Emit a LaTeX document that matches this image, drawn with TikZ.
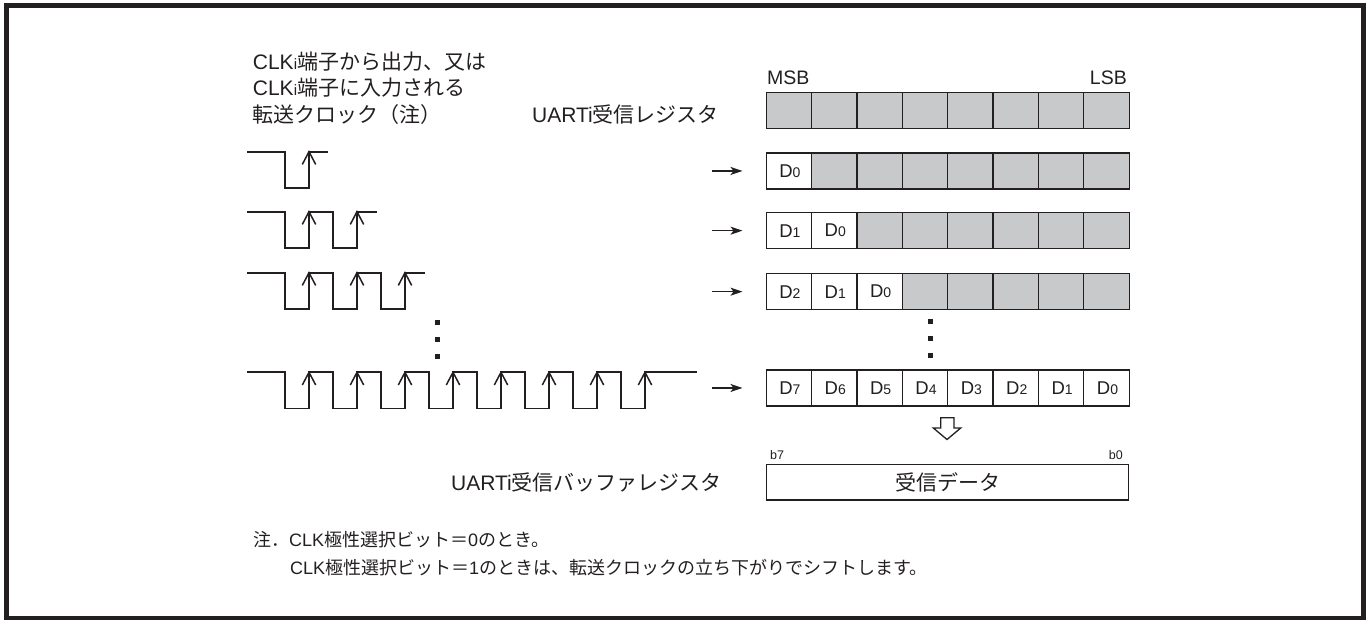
\documentclass[tikz,border=0pt]{standalone}
\usepackage{fontspec}
\setmainfont{Liberation Sans}
\newfontfamily\jp{Noto Sans CJK JP}
\usetikzlibrary{arrows.meta}
\definecolor{ink}{HTML}{231F20}
\definecolor{cellgray}{HTML}{C8C9CA}
\newcommand{\smdig}[1]{{\fontsize{14}{14}\selectfont #1}}
\newcommand{\smi}{{\fontsize{15}{15}\selectfont i}}
\begin{document}
\begin{tikzpicture}[x=1pt,y=-1pt,
  cell/.style={draw=ink, line width=1.3pt, minimum width=45.375pt, minimum height=36pt,
    inner sep=0pt, anchor=north west, font=\fontsize{18.5}{18.5}\selectfont, text=ink},
  wave/.style={draw=ink, line width=1.7pt},
  headv/.style={draw=ink, line width=1.5pt},
  arr/.style={draw=ink, line width=1.5pt, -{Stealth[length=12pt,width=8pt,inset=3pt]}},
  big/.style={inner sep=0pt, font=\fontsize{21}{25}\selectfont, text=ink},
  note/.style={inner sep=0pt, font=\fontsize{18}{22}\selectfont, text=ink},
  bitlbl/.style={inner sep=0pt, font=\fontsize{19.5}{22}\selectfont, text=ink},
  tiny/.style={inner sep=0pt, font=\fontsize{12.5}{14}\selectfont, text=ink},
  dotsq/.style={fill=ink, minimum size=5pt, inner sep=0pt}
]
\useasboundingbox (0,0) rectangle (1372,619);
\draw[line width=5pt, ink] (6.5,5.5) rectangle (1363.5,618);

% texts
\node[big, anchor=base west] (t1) at (252.7,69.5) {CLK\smi{\jp 端子から出力、又は}};
\node[big, anchor=base west] (t2) at (252.7,95.8) {CLK\smi{\jp 端子に入力される}};
\node[big, anchor=base west] (t3) at (252.7,122.8) {{\jp 転送クロック（注）}};
\node[big, anchor=base west] (reglbl) at (532,122.8) {UARTi{\jp 受信レジスタ}};
\node[bitlbl, anchor=base west] (msb) at (767,84) {MSB};
\node[bitlbl, anchor=base east] (lsb) at (1127,84) {LSB};

% registers
\foreach \r/\y/\n in {0/92/0,1/152.3/1,2/212/2,3/273/3,4/369.3/8}{
  \foreach \c in {1,...,8}{
    \pgfmathtruncatemacro\k{\n-\c}
    \ifnum\c>\n
      \node[cell, fill=cellgray] (r\r c\c) at ({765.5+(\c-1)*45.375},\y) {};
    \else
      \node[cell, fill=white] (r\r c\c) at ({765.5+(\c-1)*45.375},\y) {\hspace{2pt}\raisebox{-5pt}{D\smdig{\k}}};
    \fi
  }
}

% arrows to registers
\foreach \r in {1,2,3,4}{
  \coordinate (a\r) at (712, 0 |- r\r c1.west);
  \draw[arr, shorten >=23pt] (a\r) -- (r\r c1.west);
}

% waveforms
\foreach \yh/\n/\e in {151.7/1/328, 211.7/2/377, 272.7/3/425, 372.3/8/697}{
  \pgfmathsetmacro\yl{\yh+36.3}
  \draw[wave] (247,\yh)
    \foreach \i in {1,...,\n}{ -- ({285+48*(\i-1)},\yh) -- ({285+48*(\i-1)},\yl)
      -- ({309+48*(\i-1)},\yl) -- ({309+48*(\i-1)},\yh) } -- (\e,\yh);
  \foreach \i in {1,...,\n}{
    \draw[headv] ({309+48*(\i-1)-6.7},\yh+12.7) -- ({309+48*(\i-1)},\yh) -- ({309+48*(\i-1)+6.7},\yh+12.7);
  }
}

% continuation dots
\foreach \j/\yy in {1/322.5,2/339.5,3/356.5}{
  \node[dotsq] (ld\j) at (437.5,\yy) {};
}
\foreach \j/\yy in {1/321,2/338,3/355}{
  \node[dotsq] (rd\j) at (930,\yy) {};
}

% hollow transfer arrow
\draw[ink, line width=1.3pt, fill=white, line join=miter]
  (940.7,417.7) -- (954,417.7) -- (954,428) -- (960.7,428) -- (947,439.5)
  -- (933.3,428) -- (940.7,428) -- cycle;

% buffer register
\node[tiny, anchor=base west] (b7) at (770,459.5) {b7};
\node[tiny, anchor=base east] (b0) at (1123,459.5) {b0};
\node[draw=ink, line width=1.3pt, minimum width=362pt, minimum height=35.3pt, inner sep=0pt,
  anchor=north west, font=\fontsize{21}{25}\selectfont, text=ink] (buf) at (766,464)
  {\raisebox{-1pt}{\jp 受信データ}};
\node[big, anchor=base east] (buflbl) at (722,490.8) {UARTi{\jp 受信バッファレジスタ}};

% note
\node[note, anchor=base west] (n1) at (253,546.7) {{\jp 注．}CLK{\jp 極性選択ビット＝}0{\jp のとき。}};
\node[note, anchor=base west] (n2) at (290,574.7) {CLK{\jp 極性選択ビット＝}1{\jp のときは、転送クロックの立ち下がりでシフトします。}};
\end{tikzpicture}
\end{document}
